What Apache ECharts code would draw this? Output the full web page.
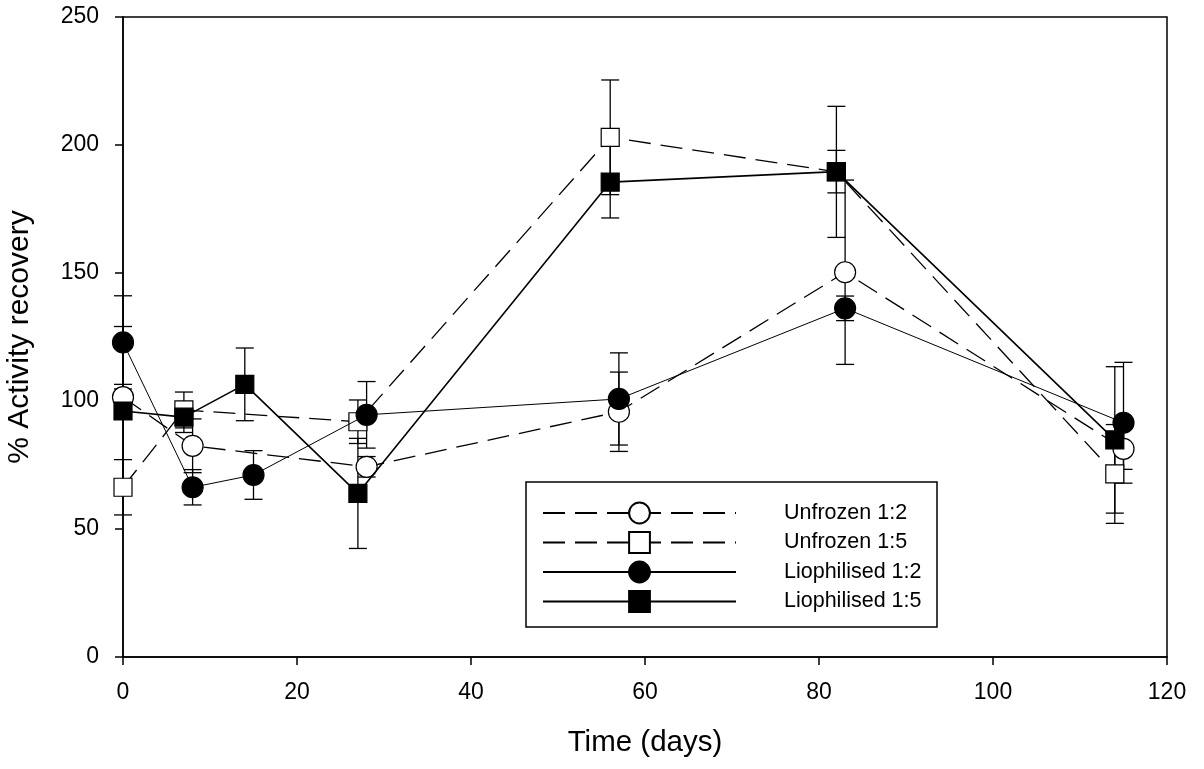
<!DOCTYPE html>
<html>
<head>
<meta charset="utf-8">
<script src="https://cdn.jsdelivr.net/npm/echarts@6/dist/echarts.min.js"></script>
<style>
  html, body { margin: 0; padding: 0; background: #fff; }
  #chart { width: 1204px; height: 769px; }
</style>
</head>
<body>
<div id="chart"></div>
<script>
// time (days) and % activity recovery
const unfrozen12Days = [0, 8, 28, 57, 83, 115]
const unfrozen12Values = [101.5, 82.5, 74.3, 95.8, 150.3, 81.3]
const unfrozen12Err = [5, 10.5, 4, 15.5, 36, 8]

const unfrozen15Days = [0, 7, 27, 56, 82, 114]
const unfrozen15Values = [66.3, 96.5, 91.9, 203, 189.5, 71.5]
const unfrozen15Err = [10.8, 7, 8.5, 22.4, 25.6, 19.3]

const lio12Days = [0, 8, 15, 28, 57, 83, 115]
const lio12Values = [122.9, 66.3, 71.1, 94.6, 100.8, 136.2, 91.5]
const lio12Err = [18.2, 6.9, 9.5, 13, 18, 4.8, 23.6]

const lio15Days = [0, 7, 14, 27, 56, 82, 114]
const lio15Values = [96.1, 93.7, 106.5, 63.9, 185.5, 189.6, 84.8]
const lio15Err = [33, 6, 14.2, 21.5, 14, 8.3, 28.6]

const seriesNames = ['Unfrozen 1:2', 'Unfrozen 1:5', 'Liophilised 1:2', 'Liophilised 1:5']

const font = 'Liberation Sans, Arial, sans-serif'
const dash = [22, 10]

const toPoints = (days, values) => days.map((d, i) => [d, values[i]])
const toBars = (days, values, err) => days.map((d, i) => [d, values[i] - err[i], values[i] + err[i]])

const renderErrorBar = (params, api) => {
  const x = api.value(0)
  const lo = api.coord([x, api.value(1)])
  const hi = api.coord([x, api.value(2)])
  const half = 9
  const style = { stroke: '#000', lineWidth: 1.3 }
  return {
    type: 'group',
    children: [
      { type: 'line', shape: { x1: lo[0], y1: lo[1], x2: hi[0], y2: hi[1] }, style },
      { type: 'line', shape: { x1: lo[0] - half, y1: lo[1], x2: lo[0] + half, y2: lo[1] }, style },
      { type: 'line', shape: { x1: hi[0] - half, y1: hi[1], x2: hi[0] + half, y2: hi[1] }, style }
    ]
  }
}

const errorSeries = (days, values, err) => ({
  type: 'custom',
  name: 'err',
  renderItem: renderErrorBar,
  data: toBars(days, values, err),
  encode: { x: 0, y: [1, 2] },
  clip: false,
  silent: true,
  z: 1
})

const lineSeries = (name, days, values, opts) => ({
  type: 'line',
  name,
  data: toPoints(days, values),
  symbol: opts.symbol,
  symbolSize: opts.symbolSize,
  clip: false,
  z: opts.z,
  lineStyle: { color: '#000', width: opts.width, type: opts.type },
  itemStyle: { color: opts.fill, borderColor: '#000', borderWidth: 1.2 },
  emphasis: { disabled: true }
})

const chart = echarts.init(document.getElementById('chart'))

chart.setOption({
  animation: false,
  backgroundColor: '#fff',
  textStyle: { fontFamily: font },
  grid: {
    left: 123, right: 37, top: 17, bottom: 112,
    outerBoundsMode: 'none',
    show: true, borderColor: '#000', borderWidth: 1.5
  },
  legend: {
    data: seriesNames,
    orient: 'vertical',
    left: 542,
    top: 500,
    padding: 0,
    itemWidth: 193,
    itemHeight: 26,
    itemGap: 3.5,
    textStyle: { fontSize: 21.5, color: '#000', fontFamily: font, padding: [0, 0, 0, 43], lineHeight: 26 }
  },
  graphic: [{
    type: 'rect',
    shape: { x: 526, y: 482, width: 411, height: 145 },
    style: { fill: 'none', stroke: '#000', lineWidth: 1.5 },
    z: 0
  }],
  xAxis: {
    type: 'value',
    min: 0, max: 120, interval: 20,
    name: 'Time (days)',
    nameLocation: 'middle',
    nameGap: 71,
    nameTextStyle: { fontSize: 29.5, color: '#000', fontFamily: font },
    axisLine: { lineStyle: { color: '#000', width: 1.5 } },
    axisTick: { length: 8, lineStyle: { color: '#000', width: 1.5 } },
    axisLabel: { fontSize: 23, color: '#000', margin: 24, fontFamily: font },
    splitLine: { show: false }
  },
  yAxis: {
    type: 'value',
    min: 0, max: 250, interval: 50,
    name: '% Activity recovery',
    nameLocation: 'middle',
    nameGap: 88,
    nameTextStyle: { fontSize: 30, color: '#000', fontFamily: font },
    axisLine: { show: true, lineStyle: { color: '#000', width: 1.5 } },
    axisTick: { show: true, length: 8, lineStyle: { color: '#000', width: 1.5 } },
    axisLabel: { fontSize: 23, color: '#000', margin: 24, fontFamily: font },
    splitLine: { show: false }
  },
  series: [
    errorSeries(unfrozen12Days, unfrozen12Values, unfrozen12Err),
    errorSeries(unfrozen15Days, unfrozen15Values, unfrozen15Err),
    errorSeries(lio12Days, lio12Values, lio12Err),
    errorSeries(lio15Days, lio15Values, lio15Err),
    lineSeries(seriesNames[0], unfrozen12Days, unfrozen12Values,
      { symbol: 'circle', symbolSize: 21, fill: '#fff', width: 1.3, type: dash, z: 3 }),
    lineSeries(seriesNames[1], unfrozen15Days, unfrozen15Values,
      { symbol: 'rect', symbolSize: 18, fill: '#fff', width: 1.3, type: dash, z: 2 }),
    lineSeries(seriesNames[2], lio12Days, lio12Values,
      { symbol: 'circle', symbolSize: 21, fill: '#000', width: 1, type: 'solid', z: 4 }),
    lineSeries(seriesNames[3], lio15Days, lio15Values,
      { symbol: 'rect', symbolSize: 18, fill: '#000', width: 1.6, type: 'solid', z: 5 })
  ]
})
</script>
</body>
</html>
